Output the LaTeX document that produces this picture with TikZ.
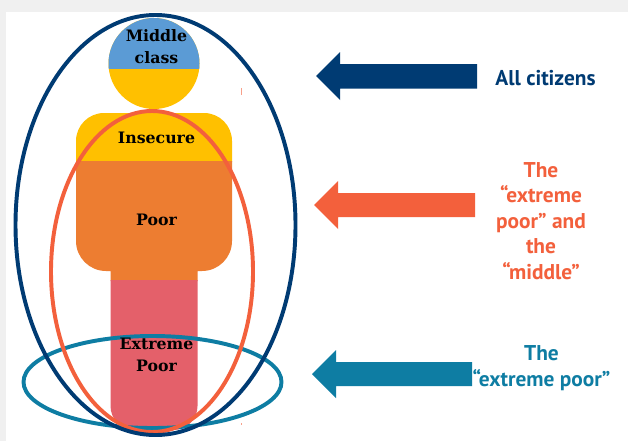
\documentclass[tikz,border=0pt]{standalone}
\usepackage{xcolor}
\usepackage{fontspec}
\setmainfont{PT Sans}
\newfontfamily\slabfont{DejaVu Serif}

\definecolor{navyblue}{HTML}{003B73}
\definecolor{coral}{HTML}{F3603C}
\definecolor{tealblue}{HTML}{0E7DA3}
\definecolor{headblue}{HTML}{5B9BD5}
\definecolor{insecurey}{HTML}{FFC000}
\definecolor{poororange}{HTML}{ED7D31}
\definecolor{extremepink}{HTML}{E4606A}

\tikzset{
  bodylabel/.style={font=\slabfont\bfseries\fontsize{11.2}{15.6}\selectfont, text=black, align=center, inner sep=0pt},
  sidelabel/.style={font=\bfseries\fontsize{15.2}{18.2}\selectfont, align=center, inner sep=0pt},
  ring/.style={line width=2.8pt}
}

\begin{document}
\begin{tikzpicture}[x=0.025cm,y=-0.025cm]
\useasboundingbox (0,0) rectangle (628,441);
\fill[black!6] (0,0) rectangle (628,441);
\fill[white] (6,12) rectangle (628,441);

% head
\fill[insecurey] (154,63.5) circle [radius=45.5];
\begin{scope}
\clip (100,10) rectangle (210,68);
\fill[headblue] (154,63.5) circle [radius=45.5];
\end{scope}

% body
\fill[insecurey] (76,162) [rounded corners=0.7cm] -- (76,113) -- (232,113) [sharp corners] -- (232,162) -- cycle;
\fill[poororange] (76,161) [rounded corners=0.75cm] -- (76,271) [sharp corners] -- (110.5,271) -- (110.5,281) -- (197.5,281) -- (197.5,271) [rounded corners=0.75cm] -- (232,271) [sharp corners] -- (232,161) -- cycle;
\fill[extremepink] (110.5,280) [rounded corners=0.6cm] -- (110.5,430) -- (197.5,430) [sharp corners] -- (197.5,280) -- cycle;

% rings
\draw[ring,tealblue] (152.5,382) ellipse [x radius=129,y radius=46];
\draw[ring,coral] (152,271.5) ellipse [x radius=101,y radius=160.5];
\draw[ring,navyblue] (155.5,225) ellipse [x radius=140,y radius=210];

% labels on the figure
\node[bodylabel] (middle) at (156.5,47) {Middle\\class};
\node[bodylabel] (insecure) at (156.5,138) {Insecure};
\node[bodylabel] (poor) at (156.5,220) {Poor};
\node[bodylabel] (extreme) at (156.5,355) {Extreme\\Poor};

% arrows
\fill[navyblue] (316,76) -- (340,52) -- (340,64) -- (477,64) -- (477,88.5) -- (340,88.5) -- (340,100) -- cycle;
\fill[coral] (314,205) -- (338,181) -- (338,193) -- (475,193) -- (475,217) -- (338,217) -- (338,229) -- cycle;
\fill[tealblue] (312,374) -- (336,350) -- (336,362) -- (472,362) -- (472,386) -- (336,386) -- (336,398) -- cycle;

% side labels
\node[sidelabel,text=navyblue] (all) at (545.5,78) {All citizens};
\node[sidelabel,text=coral] (both) at (541,221) {The\\“extreme\\poor” and\\the\\“middle”};
\node[sidelabel,text=tealblue] (only) at (541.5,368) {The\\“extreme poor”};

% specks
\fill[coral!60] (240.5,88) rectangle (241.5,95);
\fill[coral!60] (240.5,423) rectangle (241.5,425);
\end{tikzpicture}
\end{document}
